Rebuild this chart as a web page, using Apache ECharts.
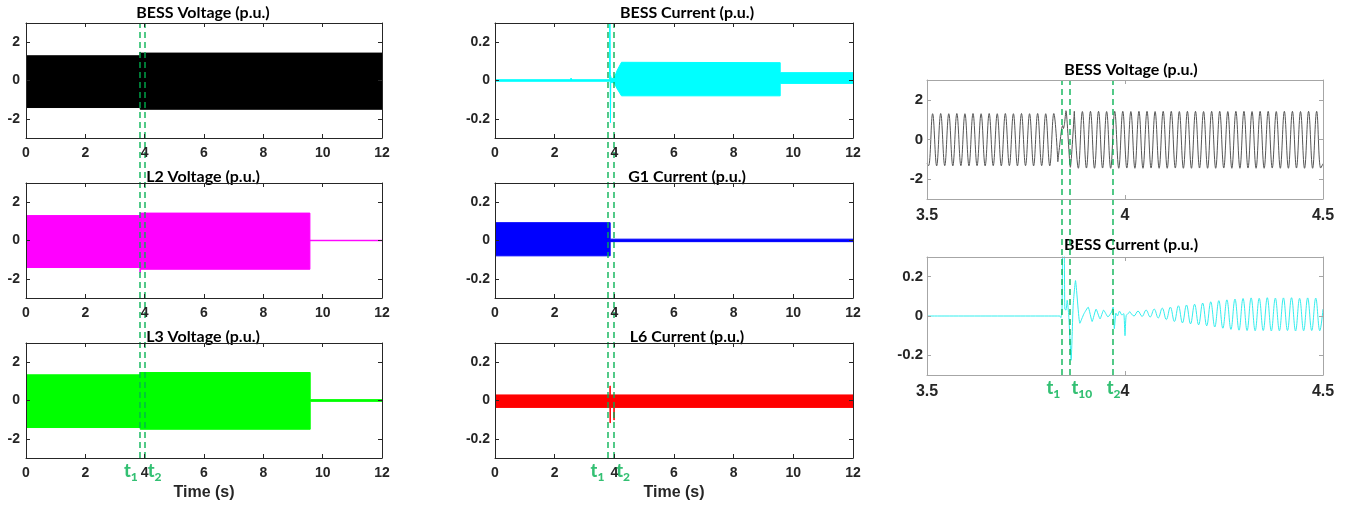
<!DOCTYPE html>
<html>
<head>
<meta charset="utf-8">
<script src="https://cdn.jsdelivr.net/npm/echarts@6/dist/echarts.min.js"></script>
<style>
  html, body { margin: 0; padding: 0; background: #fff; }
  #chart { width: 1353px; height: 506px; }
</style>
</head>
<body>
<div id="chart"></div>
<script>
// ---------- event times (s) ----------
const eventsLeft   = [{ sub: '1', t: 3.84 }, { sub: '2', t: 4.00 }];
const eventsMiddle = [{ sub: '1', t: 3.77 }, { sub: '2', t: 3.99 }];
const eventsZoom   = [{ sub: '1', t: 3.837 }, { sub: '10', t: 3.863 }, { sub: '2', t: 3.971 }];

// ---------- axis ticks ----------
const timeTicks = { min: 0, max: 12, step: 2 };
const zoomTicks = { min: 3.5, max: 4.5, step: 0.5 };
const voltTicks = [-2, 0, 2];
const currTicks = [-0.2, 0, 0.2];

// ---------- 0-12 s envelopes [t, value] (upper / lower) ----------
const bessVoltUpper = [[0, 1.29], [3.84, 1.29], [3.84, 1.47], [3.855, 1.47], [3.855, 1.43], [12, 1.43]];
const bessVoltLower = [[0, -1.41], [3.85, -1.41], [3.85, -1.50], [12, -1.50]];

const l2VoltUpper = [[0, 1.30], [3.85, 1.30], [3.85, 1.43], [9.57, 1.43], [9.57, 0.012], [12, 0.012]];
const l2VoltLower = [[0, -1.41], [3.84, -1.41], [3.84, -1.66], [3.855, -1.66], [3.855, -1.50], [9.57, -1.50], [9.57, -0.012], [12, -0.012]];

const l3VoltUpper = [[0, 1.34], [3.85, 1.34], [3.85, 1.46], [9.58, 1.46], [9.58, 0.045], [12, 0.045]];
const l3VoltLower = [[0, -1.41], [3.85, -1.41], [3.85, -1.50], [9.58, -1.50], [9.58, -0.045], [12, -0.045]];

const bessCurrUpper = [[0, 0.004], [2.5, 0.004], [2.55, 0.012], [2.6, 0.004], [3.84, 0.004], [3.85, 0.45], [3.865, 0.03],
  [3.9, 0.01], [3.99, 0.012], [4.10, 0.055], [4.24, 0.095], [9.56, 0.093], [9.56, 0.041], [12, 0.041]];
const bessCurrLower = [[0, -0.004], [3.84, -0.004], [3.86, -0.005], [3.87, -0.22], [3.88, -0.01], [3.99, -0.012],
  [4.10, -0.045], [4.24, -0.08], [9.56, -0.08], [9.56, -0.015], [12, -0.015]];

const g1CurrUpper = [[0, 0.093], [3.86, 0.093], [3.86, 0.007], [12, 0.007]];
const g1CurrLower = [[0, -0.08], [3.86, -0.08], [3.86, -0.006], [12, -0.006]];

const l6CurrUpper = [[0, 0.029], [3.852, 0.029], [3.855, 0.076], [3.86, 0.076], [3.863, 0.029], [12, 0.029]];
const l6CurrLower = [[0, -0.036], [3.855, -0.036], [3.858, -0.117], [3.863, -0.117], [3.866, -0.036], [3.985, -0.036],
  [3.988, -0.102], [3.993, -0.102], [3.996, -0.036], [12, -0.036]];

// ---------- 3.5-4.5 s waveforms ----------
// voltage half-cycle extremes before the fault (first sample 3.504 s, 0.0102 s apart)
const zoomVoltPreStart = 3.504, halfCycle = 0.0102;
const zoomVoltPre = [
  -1.32, 1.30, -1.33, 1.31, -1.32, 1.30, -1.33, 1.31, -1.32, 1.30,
  -1.33, 1.31, -1.32, 1.30, -1.33, 1.31, -1.32, 1.30, -1.33, 1.31,
  -1.32, 1.30, -1.33, 1.31, -1.32, 1.30, -1.33, 1.31, -1.32, 1.30,
  -1.33, 1.31, -1.12];
const zoomVoltFault = [[3.5, -1.22], [3.8400, 0.55], [3.8425, 0.70], [3.8445, 0.55], [3.8470, 0.75], [3.8510, 1.45], [3.8620, -1.40]];
// voltage extremes after the fault (first sample 3.872 s)
const zoomVoltPostStart = 3.872;
const zoomVoltPost = [
  1.42, -1.45, 1.41, -1.44, 1.42, -1.45, 1.42, -1.44, 1.41, -1.45,
  1.42, -1.45, 1.42, -1.44, 1.41, -1.45, 1.42, -1.45, 1.42, -1.44,
  1.41, -1.45, 1.42, -1.45, 1.42, -1.44, 1.41, -1.45, 1.42, -1.45,
  1.42, -1.44, 1.41, -1.45, 1.42, -1.45, 1.42, -1.44, 1.41, -1.45,
  1.42, -1.45, 1.42, -1.44, 1.41, -1.45, 1.42, -1.45, 1.42, -1.44,
  1.41, -1.45, 1.42, -1.45, 1.42, -1.44, 1.41, -1.45, 1.42, -1.45,
  1.42, -1.44];
const zoomVoltEnd = [4.5, -1.22];

const zoomCurrFault = [[3.5, 0], [3.835, 0], [3.838, -0.008], [3.841, 0.03], [3.843, 0.45], [3.846, 0.45], [3.848, 0.035],
  [3.851, 0.03], [3.854, 0.08], [3.858, 0.0], [3.864, -0.225], [3.869, 0.05], [3.875, 0.18], [3.886, -0.037],
  [3.896, 0.01], [3.907, 0.045], [3.917, -0.028], [3.927, 0.035], [3.937, -0.015], [3.946, 0.03], [3.957, -0.005],
  [3.966, 0.02], [3.970, 0.045], [3.973, -0.065], [3.977, 0.015], [3.981, 0.0], [3.986, 0.025], [3.992, 0.005],
  [3.997, 0.012], [4.000, -0.10], [4.003, 0.002]];
// current extremes of the growing oscillation (first sample 4.0125 s)
const zoomCurrOscStart = 4.0125;
const zoomCurrOsc = [
  0.022, 0.000, 0.025, -0.002, 0.030, -0.005, 0.035, -0.010, 0.040, -0.018,
  0.045, -0.028, 0.052, -0.035, 0.056, -0.040, 0.060, -0.045, 0.066, -0.050,
  0.072, -0.056, 0.078, -0.062, 0.082, -0.068, 0.086, -0.072, 0.089, -0.074,
  0.092, -0.075, 0.090, -0.074, 0.093, -0.076, 0.091, -0.075, 0.092, -0.074,
  0.093, -0.076, 0.090, -0.075, 0.092, -0.074, 0.091, -0.075];
const zoomCurrEnd = [4.5, 0.035];

// ---------- styling ----------
const GREEN = '#00b050';
const FRAME = '#262626';
const FRAME_ZOOM = '#a6a6a6';
const TICK_FONT = 'Liberation Sans, Arial, sans-serif';
const TITLE_FONT = 'Lato, Open Sans, sans-serif';

const onTimeBase = (t0, vals) => vals.map((v, i) => [+(t0 + i * halfCycle).toFixed(4), v]);

const grids = [], xAxes = [], yAxes = [], series = [], graphics = [];

function panel(box, xr, yr, opt) {
  const gi = grids.length;
  const frame = opt.frame || FRAME;
  grids.push({ left: box[0], top: box[1], width: box[2], height: box[3] });
  const axisLine = { show: true, onZero: false, lineStyle: { color: frame, width: 1 } };
  const tick = { show: true, inside: true, length: 4, lineStyle: { color: frame, width: 1 } };
  const lbl = { color: FRAME, fontFamily: TICK_FONT, fontWeight: 'bold', fontSize: opt.fs || 14 };
  const xi = xAxes.length;
  xAxes.push({
    type: 'value', gridIndex: gi, min: xr.min, max: xr.max, interval: xr.step, position: 'bottom', z: 5,
    axisLine, axisTick: tick, splitLine: { show: false },
    axisLabel: Object.assign({}, lbl, { margin: opt.xMargin || 8, fontSize: opt.xfs || opt.fs || 14 }),
    name: opt.xName || '', nameLocation: 'middle', nameGap: 27,
    nameTextStyle: { color: FRAME, fontFamily: TICK_FONT, fontWeight: 'bold', fontSize: 16 }
  });
  xAxes.push({
    type: 'value', gridIndex: gi, min: xr.min, max: xr.max, interval: xr.step, position: 'top', z: 5,
    axisLine, axisTick: tick, axisLabel: { show: false }, splitLine: { show: false }
  });
  const yi = yAxes.length;
  yAxes.push({
    type: 'value', gridIndex: gi, min: yr[0], max: yr[1], position: 'left', z: 5,
    axisLine, axisTick: Object.assign({ customValues: yr[2] }, tick), splitLine: { show: false },
    axisLabel: Object.assign({ customValues: yr[2], margin: opt.yMargin || 6 }, lbl)
  });
  yAxes.push({
    type: 'value', gridIndex: gi, min: yr[0], max: yr[1], position: 'right', z: 5,
    axisLine, axisTick: Object.assign({ customValues: yr[2] }, tick), splitLine: { show: false },
    axisLabel: { show: false }
  });
  graphics.push({
    type: 'text', x: opt.titleX, y: opt.titleY, silent: true,
    style: { text: opt.title, fill: '#000', font: 'bold 16px ' + TITLE_FONT, textAlign: 'center', textVerticalAlign: 'middle' }
  });
  return { xAxisIndex: xi, yAxisIndex: yi };
}

// filled envelope between an upper and a lower trace, drawn through the axes' scales
function band(ax, upper, lower, color) {
  series.push({
    type: 'custom', xAxisIndex: ax.xAxisIndex, yAxisIndex: ax.yAxisIndex, silent: true, clip: true,
    data: [[upper[0][0], upper[0][1]]],
    renderItem: (params, api) => {
      const pts = upper.map(p => api.coord(p)).concat(lower.slice().reverse().map(p => api.coord(p)));
      return {
        type: 'polygon', shape: { points: pts },
        style: { fill: color, stroke: color, lineWidth: 1, lineJoin: 'miter' }
      };
    }
  });
}

function trace(ax, data, color, smooth, width) {
  series.push({
    type: 'line', xAxisIndex: ax.xAxisIndex, yAxisIndex: ax.yAxisIndex, symbol: 'none', silent: true,
    clip: true, smooth, data, lineStyle: { color, width: width || 1 }
  });
}

function events(box, xr, marks, offsets, fontSize) {
  const gi = grids.length;
  grids.push({ left: box[0], top: box[1], width: box[2], height: box[3] });
  const xi = xAxes.length, yi = yAxes.length;
  xAxes.push({ type: 'value', gridIndex: gi, min: xr.min, max: xr.max, show: false });
  yAxes.push({ type: 'value', gridIndex: gi, min: 0, max: 1, show: false });
  const fs = fontSize || 18;
  series.push({
    type: 'scatter', xAxisIndex: xi, yAxisIndex: yi, symbolSize: 0, silent: true, z: 20,
    data: marks.map((m, i) => ({ name: m.sub, value: [m.t, 0], label: { offset: [offsets[i], 0] } })),
    label: {
      show: true, position: 'bottom', distance: 4,
      formatter: p => '{t|t}{s|' + p.name + '}',
      rich: {
        t: { fontFamily: TITLE_FONT, fontWeight: 900, fontSize: fs, color: GREEN, verticalAlign: 'top', lineHeight: fs + 1 },
        s: { fontFamily: TITLE_FONT, fontWeight: 900, fontSize: Math.round(fs * 0.65), color: GREEN, verticalAlign: 'top',
             lineHeight: Math.round(fs * 0.65), padding: [Math.round(fs * 0.5), 0, 0, 0] }
      }
    },
    markLine: {
      silent: true, symbol: 'none', animation: false, label: { show: false },
      lineStyle: { color: GREEN, type: [6, 4], width: 1.6, opacity: 0.85 },
      data: marks.map(m => ({ xAxis: m.t }))
    }
  });
}

// ---------- left column: voltages ----------
const LX = 26, LW = 356, MX = 495, MW = 358, RX = 927, RW = 396;
const rowTop = [23, 183, 343], rowH = 115;
const voltRange = [-3, 3, voltTicks], currRange = [-0.3, 0.3, currTicks];

let ax = panel([LX, rowTop[0], LW, rowH], timeTicks, voltRange, { title: 'BESS Voltage (p.u.)', titleX: 203, titleY: 13 });
band(ax, bessVoltUpper, bessVoltLower, '#000000');
ax = panel([LX, rowTop[1], LW, rowH], timeTicks, voltRange, { title: 'L2 Voltage (p.u.)', titleX: 203, titleY: 177 });
band(ax, l2VoltUpper, l2VoltLower, '#ff00ff');
ax = panel([LX, rowTop[2], LW, rowH], timeTicks, voltRange, { title: 'L3 Voltage (p.u.)', titleX: 203, titleY: 337, xName: 'Time (s)' });
band(ax, l3VoltUpper, l3VoltLower, '#00ff00');

// ---------- middle column: currents ----------
ax = panel([MX, rowTop[0], MW, rowH], timeTicks, currRange, { title: 'BESS Current (p.u.)', titleX: 687, titleY: 13, yMargin: 5 });
band(ax, bessCurrUpper, bessCurrLower, '#00ffff');
ax = panel([MX, rowTop[1], MW, rowH], timeTicks, currRange, { title: 'G1 Current (p.u.)', titleX: 687, titleY: 177, yMargin: 5 });
band(ax, g1CurrUpper, g1CurrLower, '#0000ff');
ax = panel([MX, rowTop[2], MW, rowH], timeTicks, currRange, { title: 'L6 Current (p.u.)', titleX: 687, titleY: 337, yMargin: 5, xName: 'Time (s)' });
band(ax, l6CurrUpper, l6CurrLower, '#ff0000');

// ---------- right column: 3.5-4.5 s detail ----------
ax = panel([RX, 80, RW, 119], zoomTicks, voltRange,
  { title: 'BESS Voltage (p.u.)', titleX: 1131, titleY: 70, frame: FRAME_ZOOM, fs: 15, xfs: 16, yMargin: 4, xMargin: 9 });
trace(ax, zoomVoltFault.slice(0, 1).concat(onTimeBase(zoomVoltPreStart, zoomVoltPre)), '#555555', 0.4);
trace(ax, onTimeBase(zoomVoltPreStart, zoomVoltPre).slice(-1).concat(zoomVoltFault.slice(1),
  onTimeBase(zoomVoltPostStart, zoomVoltPost).slice(0, 1)), '#555555', 0.2);
trace(ax, onTimeBase(zoomVoltPostStart, zoomVoltPost).concat([zoomVoltEnd]), '#555555', 0.4);

ax = panel([RX, 257, RW, 118], zoomTicks, currRange,
  { title: 'BESS Current (p.u.)', titleX: 1131, titleY: 245, frame: FRAME_ZOOM, fs: 15, xfs: 16, yMargin: 4, xMargin: 9 });
const oscPts = onTimeBase(zoomCurrOscStart, zoomCurrOsc).concat([zoomCurrEnd]);
trace(ax, zoomCurrFault.concat(oscPts.slice(0, 1)), '#33eeee', 0.15);
trace(ax, oscPts, '#33eeee', 0.4);

// ---------- event markers ----------
events([LX, rowTop[0], LW, rowTop[2] + rowH - rowTop[0]], timeTicks, eventsLeft, [-9, 10]);
events([MX, rowTop[0], MW, rowTop[2] + rowH - rowTop[0]], timeTicks, eventsMiddle, [-10, 9]);
events([RX, 80, RW, 295], zoomTicks, eventsZoom, [-7, 11, 0]);

const chart = echarts.init(document.getElementById('chart'), null, { renderer: 'canvas' });
chart.setOption({
  animation: false,
  backgroundColor: '#ffffff',
  grid: grids,
  xAxis: xAxes,
  yAxis: yAxes,
  series,
  graphic: graphics
});
</script>
</body>
</html>
